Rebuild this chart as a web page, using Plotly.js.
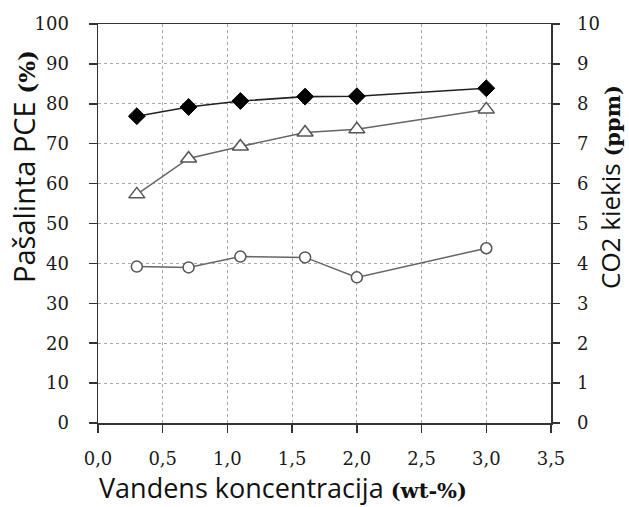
<!DOCTYPE html>
<html>
<head>
<meta charset="utf-8">
<script src="https://cdn.plot.ly/plotly-3.0.1.min.js"></script>
<style>html,body{margin:0;padding:0;background:#fff;}#chart{width:629px;height:507px;}</style>
</head>
<body>
<div id="chart"></div>
<script>
// Data
var xValues = [0.3, 0.7, 1.1, 1.6, 2.0, 3.0];
var diamondSeries = [76.9, 79.2, 80.7, 81.8, 81.9, 83.9];   // Pašalinta PCE (%)
var triangleSeries = [57.3, 66.3, 69.3, 72.8, 73.6, 78.6];  // Pašalinta PCE (%)
var circleSeries = [3.92, 3.90, 4.17, 4.15, 3.65, 4.38];    // CO2 kiekis (ppm)

var xTickVals = [0, 0.5, 1.0, 1.5, 2.0, 2.5, 3.0, 3.5];
var xTickText = ['0,0', '0,5', '1,0', '1,5', '2,0', '2,5', '3,0', '3,5'];
var yTickVals = [0, 10, 20, 30, 40, 50, 60, 70, 80, 90, 100];
var y2TickVals = [0, 1, 2, 3, 4, 5, 6, 7, 8, 9, 10];

var xTitleMain = 'Vandens koncentracija';
var xTitleUnit = '(wt-%)';
var yTitleMain = 'Pašalinta PCE';
var yTitleUnit = '(%)';
var y2TitleMain = 'CO2 kiekis';
var y2TitleUnit = '(ppm)';

var sans = 'Open Sans';
var serif = 'DejaVu Serif';

function unitSpan(t, size) {
  return ' <span style="font-family:\'DejaVu Serif\';font-weight:bold;font-size:' + size + 'px">' + t + '</span>';
}

var traces = [
  {
    x: xValues, y: diamondSeries, yaxis: 'y', mode: 'lines+markers',
    line: {color: '#222', width: 1.6},
    marker: {symbol: 'diamond', size: 13, color: '#000', line: {color: '#000', width: 1}},
    hoverinfo: 'skip'
  },
  {
    x: xValues, y: triangleSeries, yaxis: 'y', mode: 'lines+markers',
    line: {color: '#666', width: 1.5},
    marker: {symbol: 'triangle-up', size: 14, color: '#fff', line: {color: '#555', width: 1.5}},
    hoverinfo: 'skip'
  },
  {
    x: xValues, y: circleSeries, yaxis: 'y2', mode: 'lines+markers',
    line: {color: '#666', width: 1.5},
    marker: {symbol: 'circle', size: 11, color: '#fff', line: {color: '#555', width: 1.5}},
    hoverinfo: 'skip'
  }
];

var tickFont = {family: serif, size: 18, color: '#1a1a1a'};

var layout = {
  width: 629, height: 507,
  margin: {l: 98, r: 78, t: 24, b: 84},
  paper_bgcolor: '#fff', plot_bgcolor: '#fff',
  showlegend: false,
  xaxis: {
    range: [0, 3.5], tickvals: xTickVals, ticktext: xTickText,
    ticks: 'outside', ticklen: 8, tickwidth: 1.5, tickcolor: '#333',
    showline: true, linecolor: '#333', linewidth: 1.5, mirror: true,
    showgrid: true, gridcolor: '#aaa', griddash: 'dot', gridwidth: 1,
    zeroline: false, ticklabelstandoff: 11,
    tickfont: tickFont
  },
  yaxis: {
    range: [0, 100], tickvals: yTickVals,
    ticks: 'outside', ticklen: 8, tickwidth: 1.5, tickcolor: '#333',
    showline: true, linecolor: '#333', linewidth: 1.5,
    showgrid: true, gridcolor: '#aaa', griddash: 'dot', gridwidth: 1,
    zeroline: false, ticklabelstandoff: 16,
    tickfont: tickFont
  },
  yaxis2: {
    range: [0, 10], tickvals: y2TickVals, overlaying: 'y', side: 'right',
    ticks: 'outside', ticklen: 7, tickwidth: 1.5, tickcolor: '#333',
    showline: true, linecolor: '#333', linewidth: 1.5,
    showgrid: false, zeroline: false, ticklabelstandoff: 14,
    tickfont: tickFont
  },
  annotations: [
    {
      xref: 'paper', yref: 'paper', x: 283/629, y: 1 - 487/507,
      xanchor: 'center', yanchor: 'middle', showarrow: false, borderpad: 0,
      text: xTitleMain + unitSpan(xTitleUnit, 21),
      font: {family: sans, size: 27, color: '#111'}
    },
    {
      xref: 'paper', yref: 'paper', x: 23/629, y: 1 - 167/507,
      xanchor: 'center', yanchor: 'middle', showarrow: false, textangle: -90,
      text: yTitleMain + unitSpan(yTitleUnit, 23),
      font: {family: sans, size: 29, color: '#111'}
    },
    {
      xref: 'paper', yref: 'paper', x: 610/629, y: 1 - 187/507,
      xanchor: 'center', yanchor: 'middle', showarrow: false, textangle: -90,
      text: y2TitleMain + unitSpan(y2TitleUnit, 21),
      font: {family: sans, size: 26, color: '#111'}
    }
  ]
};

// annotations use paper coords relative to plot area; convert from page pixels
var plotL = 98, plotR = 629 - 78, plotT = 24, plotB = 507 - 84;
layout.annotations.forEach(function(a) {
  var px = a.x * 629, py = (1 - a.y) * 507;
  a.x = (px - plotL) / (plotR - plotL);
  a.y = (plotB - py) / (plotB - plotT);
});

Plotly.newPlot('chart', traces, layout, {displayModeBar: false, staticPlot: true});
</script>
</body>
</html>
